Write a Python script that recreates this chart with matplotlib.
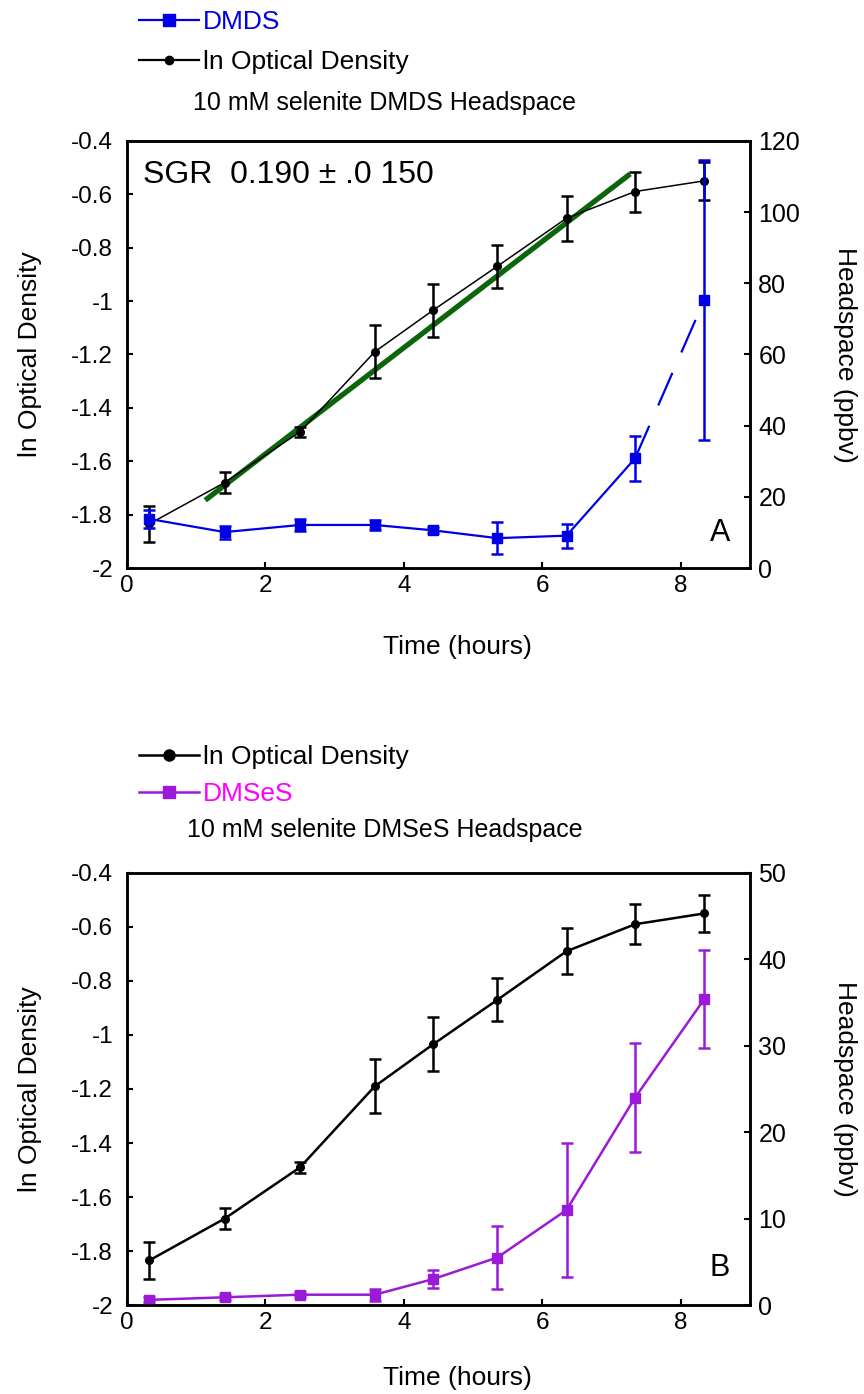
import matplotlib
matplotlib.use("Agg")
import matplotlib.pyplot as plt
from matplotlib.lines import Line2D

plt.rcParams['font.family'] = ['Liberation Sans', 'DejaVu Sans']

# sampling times (hours)
hours = [0.32, 1.41, 2.5, 3.58, 4.42, 5.35, 6.35, 7.34, 8.34]
# ln optical density (same culture for both panels)
ln_od = [-1.835, -1.68, -1.49, -1.19, -1.035, -0.87, -0.69, -0.59, -0.55]
ln_od_err = [0.068, 0.04, 0.02, 0.10, 0.10, 0.08, 0.085, 0.075, 0.07]
# DMDS headspace (ppbv)
dmds = [13.8, 10.1, 12.1, 12.1, 10.6, 8.4, 9.1, 30.8, 75.3]
dmds_err = [2.5, 1.8, 1.6, 1.5, 0.8, 4.5, 3.4, 6.4, 39.4]
# DMSeS headspace (ppbv)
dmses = [0.6, 0.9, 1.2, 1.2, 3.0, 5.5, 11.0, 24.0, 35.4]
dmses_err = [0.3, 0.3, 0.3, 0.7, 1.0, 3.6, 7.8, 6.3, 5.7]
# linear fit drawn on panel A (start / end)
fit_x = [1.16, 7.24]
fit_y = [-1.74, -0.53]

od_ticks = [-2, -1.8, -1.6, -1.4, -1.2, -1, -0.8, -0.6, -0.4]
od_labels = ['-2', '-1.8', '-1.6', '-1.4', '-1.2', '-1', '-0.8', '-0.6', '-0.4']

BLUE = '#0000e6'
PURPLE = '#9a1ad8'
MAGENTA = '#ff00ff'
GREEN = '#0b660b'

fig = plt.figure(figsize=(8.64, 13.94), dpi=100)


def style_axes(ax, ax2, right_max, right_step, xlab_y):
    ax.set_xlim(0, 9)
    ax.set_ylim(-2, -0.4)
    ax.set_xticks([0, 2, 4, 6, 8])
    ax.set_yticks(od_ticks)
    ax.set_yticklabels(od_labels)
    ax2.set_ylim(0, right_max)
    ax2.set_yticks(list(range(0, right_max + 1, right_step)))
    for a in (ax, ax2):
        for s in a.spines.values():
            s.set_linewidth(1.8)
        a.tick_params(direction='in', length=4, width=1.5, labelsize=17.5)
    ax.tick_params(axis='y', pad=10, right=False)
    ax.tick_params(axis='x', pad=5, top=False)
    ax2.tick_params(axis='y', pad=6, labelsize=18)
    ax.set_xlabel('Time (hours)', fontsize=19, va='center', ha='center')
    ax.xaxis.set_label_coords(0.53, xlab_y)
    ax.set_ylabel('ln Optical Density', fontsize=19, va='center',
                  ha='center')
    ax.yaxis.set_label_coords(-0.156, 0.5)
    ax2.set_ylabel('Headspace (ppbv)', fontsize=19, rotation=270,
                   va='center', ha='center')
    ax2.yaxis.set_label_coords(1.152, 0.5)


def od_series(ax, lw):
    ax.errorbar(hours, ln_od, yerr=ln_od_err, color='black', lw=lw,
                marker='o', ms=5.5, elinewidth=1.8, capsize=4, capthick=1.8,
                zorder=3)


# ---- panel A : DMDS ----
axA = fig.add_axes([0.147, 0.5925, 0.721, 0.3065])
axA2 = axA.twinx()
axA.plot(fit_x, fit_y, color=GREEN, lw=3.8, zorder=2)
od_series(axA, 1.1)
axA2.errorbar(hours, dmds, yerr=dmds_err, fmt='none', ecolor=BLUE,
              elinewidth=1.8, capsize=4, capthick=1.8)
axA2.plot(hours[:8], dmds[:8], color=BLUE, lw=1.6)
axA2.plot(hours[7:], dmds[7:], color=BLUE, lw=1.6, dashes=(16, 10))
axA2.plot(hours, dmds, ls='none', marker='s', ms=6.5, color=BLUE)
style_axes(axA, axA2, 120, 20, -0.185)
axA.text(0.414, 1.088, '10 mM selenite DMDS Headspace', fontsize=18,
         transform=axA.transAxes, ha='center', va='center')
axA.text(0.026, 0.92, 'SGR  0.190 \u00b1 .0 150', transform=axA.transAxes,
         fontsize=23, va='center', ha='left')
axA.text(0.952, 0.082, 'A', transform=axA.transAxes, fontsize=22,
         va='center', ha='center')

legA = [Line2D([], [], color=BLUE, lw=1.6, marker='s', ms=8),
        Line2D([], [], color='black', lw=1.6, marker='o', ms=6)]
fig.legend(legA, ['DMDS', 'ln Optical Density'], loc='upper left',
           bbox_to_anchor=(0.139, 1.006), frameon=False, fontsize=19,
           handlelength=2.3, handletextpad=0.15, labelspacing=0.6,
           borderpad=0.2, labelcolor=[BLUE, 'black'])

# ---- panel B : DMSeS ----
axB = fig.add_axes([0.147, 0.0638, 0.721, 0.31])
axB2 = axB.twinx()
od_series(axB, 1.8)
axB2.errorbar(hours, dmses, yerr=dmses_err, color=PURPLE, lw=1.8,
              marker='s', ms=6.5, elinewidth=1.8, capsize=4, capthick=1.8)
style_axes(axB, axB2, 50, 10, -0.169)
axB.text(0.414, 1.0995, '10 mM selenite DMSeS Headspace', fontsize=18,
         transform=axB.transAxes, ha='center', va='center')
axB.text(0.952, 0.086, 'B', transform=axB.transAxes, fontsize=22,
         va='center', ha='center')

legB = [Line2D([], [], color='black', lw=1.8, marker='o', ms=8),
        Line2D([], [], color=PURPLE, lw=1.8, marker='s', ms=9)]
fig.legend(legB, ['ln Optical Density', 'DMSeS'], loc='upper left',
           bbox_to_anchor=(0.139, 0.479), frameon=False, fontsize=19,
           handlelength=2.3, handletextpad=0.15, labelspacing=0.5,
           borderpad=0.2, labelcolor=['black', MAGENTA])

fig.savefig('out.png', dpi=100)
